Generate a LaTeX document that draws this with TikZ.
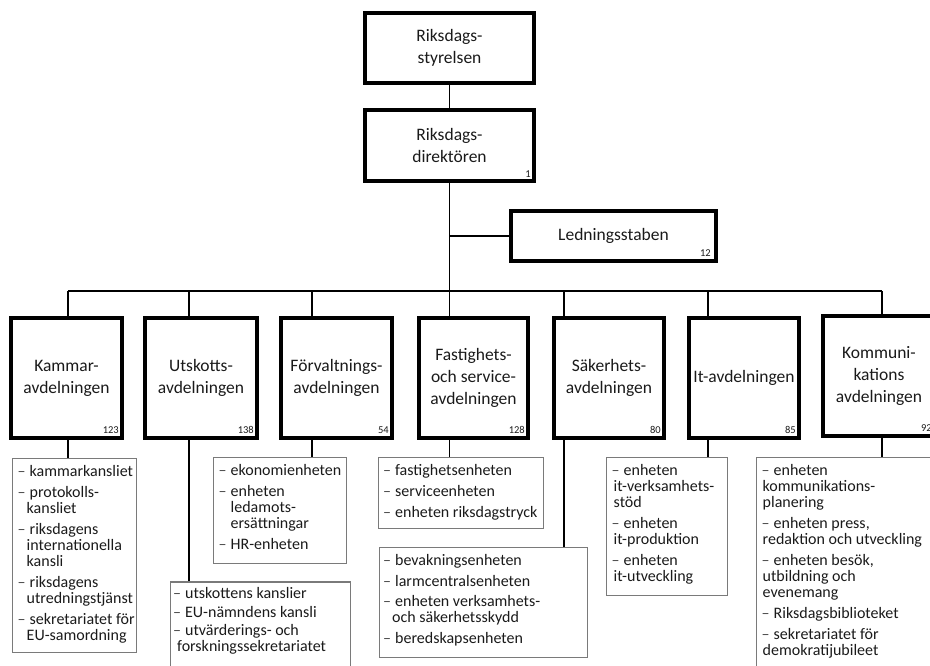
\documentclass[tikz,border=0pt]{standalone}
\usepackage{fontspec}
\setmainfont{Carlito}
\usetikzlibrary{calc}
\definecolor{ink}{HTML}{1A1A1A}
\definecolor{subline}{HTML}{7A7A7A}
\definecolor{dashc}{HTML}{4A4A4A}
\newlength\cind
\newcommand\sitem[1]{\textcolor{dashc}{–}\hspace{4pt}#1}
\newcommand\scont[1]{\hspace*{\cind}#1}
\tikzset{
  deptbox/.style={draw=black, line width=3.8pt, inner sep=0pt, align=center,
    font=\fontsize{17.5}{22}\selectfont, text=ink},
  subbox/.style={draw=subline, line width=1.1pt, inner sep=0pt},
  sublist/.style={anchor=base west, inner sep=0pt, text=ink,
    font=\fontsize{16}{16}\selectfont},
  num/.style={anchor=south east, inner sep=0pt, font=\fontsize{10.5}{12}\selectfont, text=ink},
  conn/.style={line width=1.8pt, draw=black},
}
\begin{document}
\begin{tikzpicture}[x=1pt,y=-1pt]
\useasboundingbox (0,0) rectangle (930,666);
\clip (0,0) rectangle (930,666);

% top boxes
\node[deptbox, minimum width=169.2pt, minimum height=70.2pt] (rs) at (449.5,48) {Riksdags-\\styrelsen};
\node[deptbox, minimum width=169.2pt, minimum height=71.2pt] (rd) at (449.5,145.5) {Riksdags-\\direktören};
\node[num] (rdn) at ($(rd.south east)+(-5,-5)$) {1};
\node[deptbox, minimum width=205.2pt, minimum height=50.2pt] (ls) at (613.5,236) {Ledningsstaben};
\node[num] (lsn) at ($(ls.south east)+(-7,-6)$) {12};

% departments
\node[deptbox, minimum width=111.2pt, minimum height=120.2pt] (kam) at (66.5,378) {Kammar-\\avdelningen};
\node[deptbox, minimum width=112.2pt, minimum height=120.2pt] (utk) at (201,378) {Utskotts-\\avdelningen};
\node[deptbox, minimum width=111.2pt, minimum height=120.2pt] (fv) at (336.5,378) {Förvaltnings-\\avdelningen};
\node[deptbox, minimum width=109.2pt, minimum height=120.2pt] (fs) at (473.5,378) {Fastighets-\\och service-\\avdelningen};
\node[deptbox, minimum width=110.2pt, minimum height=120.2pt] (sk) at (609,378) {Säkerhets-\\avdelningen};
\node[deptbox, minimum width=110.2pt, minimum height=120.2pt] (itd) at (744,378) {It-avdelningen};
\node[deptbox, minimum width=112.2pt, minimum height=120.2pt] (ko) at (879,376) {Kommuni-\\kations\\avdelningen};

\node[num] (kamn) at ($(kam.south east)+(-5,-6)$) {123};
\node[num] (utkn) at ($(utk.south east)+(-5,-6)$) {138};
\node[num] (fvn) at ($(fv.south east)+(-5,-6)$) {54};
\node[num] (fsn) at ($(fs.south east)+(-5,-6)$) {128};
\node[num] (skn) at ($(sk.south east)+(-5,-6)$) {80};
\node[num] (itn) at ($(itd.south east)+(-5,-6)$) {85};
\node[num] (kon) at ($(ko.south east)+(-5,-6)$) {92};

% sub boxes
\node[subbox, minimum width=123.9pt, minimum height=193.9pt] (kams) at (74.5,555.5) {};
\node[subbox, minimum width=179.9pt, minimum height=160pt] (utks) at (260.5,662) {};
\node[subbox, minimum width=132.9pt, minimum height=105.9pt] (fvs) at (280,510.5) {};
\node[subbox, minimum width=164.9pt, minimum height=70.9pt] (fss) at (461,493) {};
\node[subbox, minimum width=207.9pt, minimum height=109.9pt] (sks) at (483.5,602.5) {};
\node[subbox, minimum width=120.9pt, minimum height=137.9pt] (its) at (667,526.5) {};
\node[subbox, minimum width=202.9pt, minimum height=241.9pt] (kos) at (858,578.5) {};

% connector x positions on the bus
\coordinate (bk) at (68,291);
\coordinate (bu) at (189,291);
\coordinate (bf) at (312,291);
\coordinate (bs) at (449.5,291);
\coordinate (bsk) at (564,291);
\coordinate (bi) at (708,291);
\coordinate (bko) at (882,291);

\draw[conn] (rs.south) -- (rd.north);
\draw[conn] (rd.south) -- (rd.south |- fs.north);
\draw[conn] (rd.south |- ls.west) -- (ls.west);
\draw[conn] (bk) -- (bko);
\draw[conn] (bk) -- (bk |- kam.north);
\draw[conn] (bu) -- (bu |- utk.north);
\draw[conn] (bf) -- (bf |- fv.north);
\draw[conn] (bsk) -- (bsk |- sk.north);
\draw[conn] (bi) -- (bi |- itd.north);
\draw[conn] (bko) -- (bko |- ko.north);

\draw[conn] (bk |- kam.south) -- (bk |- kams.north);
\draw[conn] (bu |- utk.south) -- (bu |- utks.north);
\draw[conn] (bf |- fv.south) -- (bf |- fvs.north);
\draw[conn] (bs |- fs.south) -- (bs |- fss.north);
\draw[conn] (bsk |- sk.south) -- (bsk |- sks.north);
\draw[conn] (bi |- itd.south) -- (bi |- its.north);
\draw[conn] (bko |- ko.south) -- (bko |- kos.north);

% sub lists
\node[sublist] (kamt) at ($(kams.north west)+(5.5,18.5)$) {\setlength\cind{9pt}\begin{tabular}[t]{@{}l@{}}
\sitem{kammarkansliet}\\[5pt]
\sitem{protokolls-}\\ \scont{kansliet}\\[5pt]
\sitem{riksdagens}\\ \scont{internationella}\\ \scont{kansli}\\[5pt]
\sitem{riksdagens}\\ \scont{utredningstjänst}\\[5pt]
\sitem{sekretariatet för}\\ \scont{EU-samordning}
\end{tabular}};

\node[sublist] (utkt) at ($(utks.north west)+(3,17.5)$) {\setlength\cind{4pt}\begin{tabular}[t]{@{}l@{}}
\sitem{utskottens kanslier}\\[2.5pt]
\sitem{EU-nämndens kansli}\\[2.5pt]
\sitem{utvärderings- och}\\ \scont{forskningssekretariatet}
\end{tabular}};

\node[sublist] (fvt) at ($(fvs.north west)+(5.5,18.5)$) {\setlength\cind{12pt}\begin{tabular}[t]{@{}l@{}}
\sitem{ekonomienheten}\\[5pt]
\sitem{enheten}\\ \scont{ledamots-}\\ \scont{ersättningar}\\[5pt]
\sitem{HR-enheten}
\end{tabular}};

\node[sublist] (fst) at ($(fss.north west)+(5,18.5)$) {\begin{tabular}[t]{@{}l@{}}
\sitem{fastighetsenheten}\\[5pt]
\sitem{serviceenheten}\\[5pt]
\sitem{enheten riksdagstryck}
\end{tabular}};

\node[sublist] (skt) at ($(sks.north west)+(4,18.5)$) {\setlength\cind{9pt}\begin{tabular}[t]{@{}l@{}}
\sitem{bevakningsenheten}\\[4.5pt]
\sitem{larmcentralsenheten}\\[4.5pt]
\sitem{enheten verksamhets-}\\ \scont{och säkerhetsskydd}\\[4.5pt]
\sitem{beredskapsenheten}
\end{tabular}};

\node[sublist] (itt) at ($(its.north west)+(5.5,18.5)$) {\setlength\cind{2pt}\begin{tabular}[t]{@{}l@{}}
\sitem{enheten}\\ \scont{it-verksamhets-}\\ \scont{stöd}\\[5pt]
\sitem{enheten}\\ \scont{it-produktion}\\[5pt]
\sitem{enheten}\\ \scont{it-utveckling}
\end{tabular}};

\node[sublist] (kot) at ($(kos.north west)+(5.5,18.5)$) {\setlength\cind{1pt}\begin{tabular}[t]{@{}l@{}}
\sitem{enheten}\\ \scont{kommunikations-}\\ \scont{planering}\\[5pt]
\sitem{enheten press,}\\ \scont{redaktion och utveckling}\\[5pt]
\sitem{enheten besök,}\\ \scont{utbildning och}\\ \scont{evenemang}\\[5pt]
\sitem{Riksdagsbiblioteket}\\[5pt]
\sitem{sekretariatet för}\\ \scont{demokratijubileet}
\end{tabular}};
\end{tikzpicture}
\end{document}
